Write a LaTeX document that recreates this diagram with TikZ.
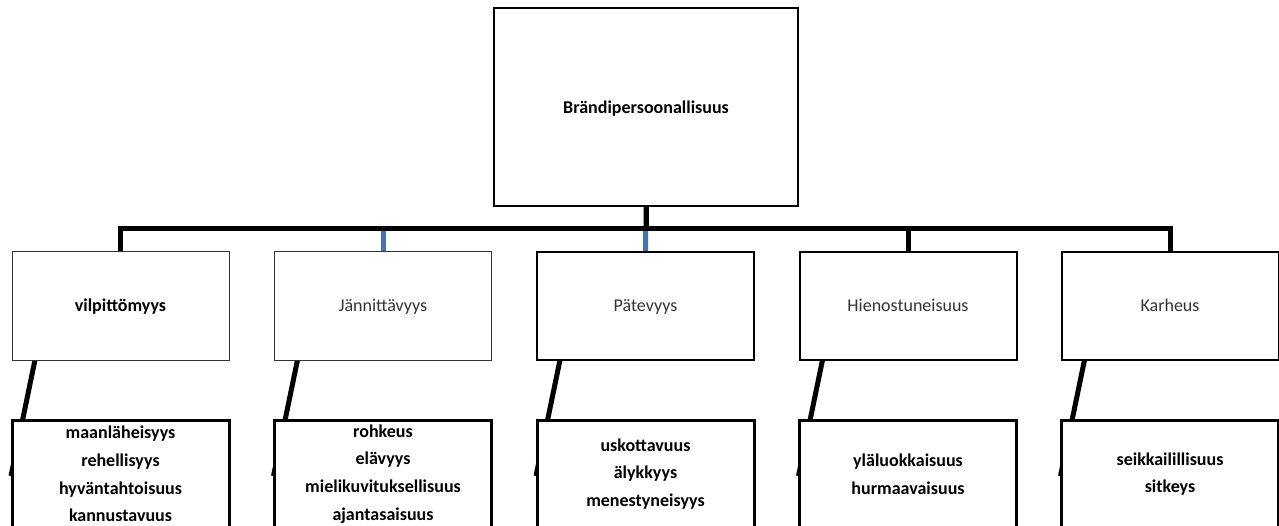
\documentclass[tikz,border=0pt]{standalone}
\usepackage{fontspec}
\setmainfont{Carlito}
\usetikzlibrary{calc}
\definecolor{connblue}{RGB}{68,114,176}
\pgfdeclarelayer{bg}
\pgfsetlayers{bg,main}
\begin{document}
\begin{tikzpicture}[x=1pt,y=-1pt,
  basebox/.style={draw, rectangle, fill=white, inner sep=0pt, outer sep=0pt, align=center},
  topbox/.style={basebox, line width=2pt, minimum width=304pt, minimum height=198pt, font=\fontsize{18}{22}\selectfont\bfseries, text height=16pt, text depth=2pt},
  midthin/.style={basebox, line width=1pt, draw=black!80, minimum width=217pt, minimum height=108pt, font=\fontsize{18}{22}\selectfont, text=black!80, text height=14pt, text depth=2pt},
  midthick/.style={basebox, line width=2pt, minimum width=217pt, minimum height=108pt, font=\fontsize{18}{22}\selectfont, text=black!80, text height=14pt, text depth=2pt},
  botbox/.style={basebox, line width=3pt, minimum width=217pt, minimum height=108pt, font=\fontsize{18}{27.7}\selectfont\bfseries},
  busline/.style={line width=5pt, line join=miter},
  slant/.style={line width=5pt, line cap=butt}]
\useasboundingbox (0,0) rectangle (1279,526);
\clip (0,0) rectangle (1279,526);

\coordinate (bus) at (0,229);

\node[topbox] (top) at (646,107) {Brändipersoonallisuus};

\node[midthin] (m1) at (120.5,306) {\textbf{\color{black}vilpittömyys}};
\node[midthin] (m2) at (383,306) {Jännittävyys};
\node[midthick] (m3) at (645.5,306) {Pätevyys};
\node[midthick] (m4) at (908,306) {Hienostuneisuus};
\node[midthick] (m5) at (1170,306) {Karheus};

\node[botbox] (b1) at (120.5,474) {maanläheisyys\\rehellisyys\\hyväntahtoisuus\\kannustavuus};
\node[botbox] (b2) at (383,474) {rohkeus\\elävyys\\mielikuvituksellisuus\\ajantasaisuus};
\node[botbox] (b3) at (645.5,474) {uskottavuus\\älykkyys\\menestyneisyys};
\node[botbox] (b4) at (908,474) {yläluokkaisuus\\hurmaavaisuus};
\node[botbox] (b5) at (1170,474) {seikkailillisuus\\sitkeys};

\begin{pgfonlayer}{bg}
  % blue connectors (partly covered by black ones)
  \draw[busline, draw=connblue] (top.south) -- (top.south |- bus) -| (m2.north);
  \draw[busline, draw=connblue] (top.south) -- (m3.north);
  % black connectors
  \draw[busline] (top.south) -- (top.south |- bus) -| (m1.north);
  \draw[busline] (top.south) -- (top.south |- bus) -| (m4.north);
  \draw[busline] (top.south) -- (top.south |- bus) -| (m5.north);
  % slanted connectors to the trait boxes
  \foreach \i in {1,...,5}{
    \coordinate (s\i) at ($(m\i.south west)+(23,0)$);
    \coordinate (e\i) at ($(b\i.west)+(-1,2)$);
    \draw[slant] (s\i) -- (e\i);
  }
\end{pgfonlayer}
\end{tikzpicture}
\end{document}
